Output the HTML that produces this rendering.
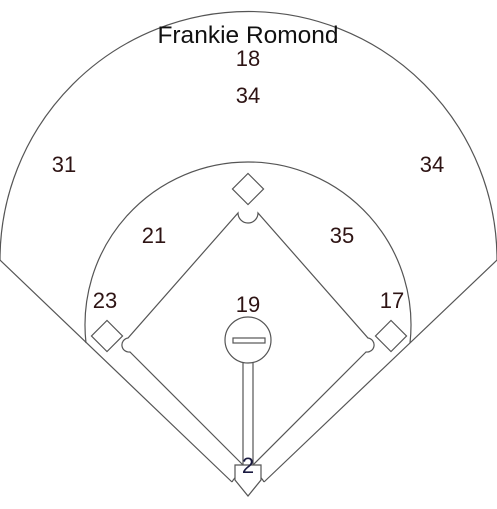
<!DOCTYPE html>
<html><head><meta charset="utf-8"><style>
html,body{margin:0;padding:0;background:#fff;}
svg{display:block;font-family:"Liberation Sans",sans-serif;}
</style></head><body>
<svg id="field" width="497" height="509" viewBox="0 0 497 509">
<g fill="none" stroke="#555" stroke-width="1.2">
<path d="M0,260 A248,248 0 0 1 497,260"/>
<path d="M0,260 L232,482"/>
<path d="M497,260 L264,482"/>
<path d="M86,343 A163,163 0 1 1 410,343"/>
<path d="M232,482 A18,18 0 0 1 264,482"/>
<path d="M243,465 L130,352 A7,7 0 0 1 128,338 L238,213 A10,10 0 0 0 258,213 L368,338 A7,7 0 0 1 366,352 L253,465"/>
<rect x="237" y="178" width="22" height="22" transform="rotate(45 248 189)"/>
<rect x="96" y="325" width="22" height="22" transform="rotate(45 107 336)"/>
<rect x="380" y="325" width="22" height="22" transform="rotate(45 391 336)"/>
<circle cx="248" cy="340" r="23"/>
<rect x="233" y="338" width="32" height="5"/>
<path d="M243,363 L243,465 M253,363 L253,465"/>
<path d="M235,465 L261,465 L261,480 L248,496 L235,480 Z" fill="#fff"/>
</g>
<text x="248" y="43" text-anchor="middle" font-size="24.5" fill="#111">Frankie Romond</text>
<g id="labels"></g>
</svg>
<script>
const positions=["CF-deep","CF","LF","RF","SS","2B","3B","1B","P","C"];
const values=[18,34,31,34,21,35,23,17,19,2];
const anchorX=[248,248,64,432,154,342,105,392,248,248];
const anchorY=[58,95,164,164,235,235,300,300,304,465];
const g=document.getElementById('labels');
for(let i=0;i<values.length;i++){
  const t=document.createElementNS('http://www.w3.org/2000/svg','text');
  
  
  t.setAttribute('x',anchorX[i]);
  t.setAttribute('y',anchorY[i]+8);
  t.setAttribute('text-anchor','middle');
  t.setAttribute('font-size','22');
  t.setAttribute('fill',positions[i]==='C'?'#1a1a40':'#2e1414');
  t.textContent=values[i];
  g.appendChild(t);
}
</script>
</body></html>
